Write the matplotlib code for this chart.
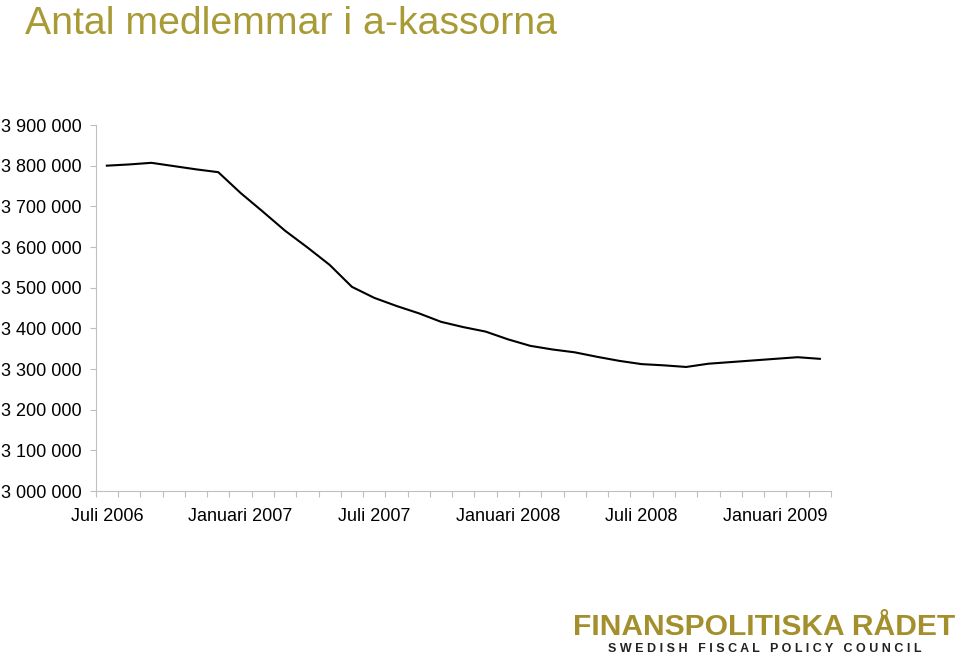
import matplotlib
matplotlib.use('Agg')
import matplotlib.pyplot as plt
from matplotlib.ticker import FuncFormatter, FixedLocator

plt.rcParams['font.family'] = ['Liberation Sans', 'DejaVu Sans']

# monthly members, Juli 2006 - Mars 2009
months = ['Juli 2006', 'Aug 2006', 'Sep 2006', 'Okt 2006', 'Nov 2006', 'Dec 2006',
          'Januari 2007', 'Feb 2007', 'Mars 2007', 'Apr 2007', 'Maj 2007', 'Juni 2007',
          'Juli 2007', 'Aug 2007', 'Sep 2007', 'Okt 2007', 'Nov 2007', 'Dec 2007',
          'Januari 2008', 'Feb 2008', 'Mars 2008', 'Apr 2008', 'Maj 2008', 'Juni 2008',
          'Juli 2008', 'Aug 2008', 'Sep 2008', 'Okt 2008', 'Nov 2008', 'Dec 2008',
          'Januari 2009', 'Feb 2009', 'Mars 2009']
members = [3800000, 3803000, 3807000, 3799000, 3791000, 3784000,
           3733000, 3687000, 3640000, 3599000, 3556000, 3502000,
           3475000, 3455000, 3437000, 3416000, 3403000, 3392000,
           3373000, 3357000, 3348000, 3341000, 3330000, 3320000,
           3312000, 3309000, 3305000, 3313000, 3317000, 3321000,
           3325000, 3329000, 3325000]
label_every = 6

title_color = '#A89A35'
logo_color = '#A38F2B'
axis_color = '#BFBFBF'

fig = plt.figure(figsize=(9.6, 6.55), dpi=100)
ax = fig.add_axes([95.7 / 960, 1 - 491 / 655, (831 - 95.7) / 960, (491 - 125) / 655])

x = list(range(len(members)))
ax.plot(x, members, color='black', linewidth=1.5)

ax.set_xlim(-0.5, len(members) - 0.5)
ax.set_ylim(3000000, 3900000)

# y axis
ax.set_yticks(range(3000000, 3900001, 100000))
ax.yaxis.set_major_formatter(FuncFormatter(lambda v, p: f'{int(v):,}'.replace(',', ' ')))
ax.tick_params(axis='y', direction='out', length=4.5, width=0.8, color=axis_color,
               labelsize=13, pad=5.5)

# x axis: ticks between months, labels every sixth month
ax.xaxis.set_major_locator(FixedLocator([i - 0.5 for i in range(len(members) + 1)]))
ax.xaxis.set_major_formatter(FuncFormatter(lambda v, p: ''))
ax.xaxis.set_minor_locator(FixedLocator(x[::label_every]))
ax.xaxis.set_minor_formatter(FuncFormatter(lambda v, p: months[int(round(v))]))
ax.tick_params(axis='x', which='major', direction='out', length=4.5, width=0.8, color=axis_color)
ax.tick_params(axis='x', which='minor', length=0, labelsize=13, pad=12.5)

for side in ['top', 'right']:
    ax.spines[side].set_visible(False)
for side in ['left', 'bottom']:
    ax.spines[side].set_color(axis_color)
    ax.spines[side].set_linewidth(0.8)

# title
fig.text(25 / 960, 1 - 34 / 655, 'Antal medlemmar i a-kassorna', fontsize=28.3,
         color=title_color, ha='left', va='baseline')

# logo
fig.text(955 / 960, 1 - 635 / 655, 'FINANSPOLITISKA RÅDET', fontsize=21.6,
         fontweight='bold', color=logo_color, ha='right', va='baseline')
subtitle = '   '.join(' '.join(w) for w in 'SWEDISH FISCAL POLICY COUNCIL'.split())
fig.text(922 / 960, 1 - 652 / 655, subtitle,
         fontsize=9, fontweight='bold', color='#222222', ha='right', va='baseline')

fig.savefig('out.png', dpi=100)
